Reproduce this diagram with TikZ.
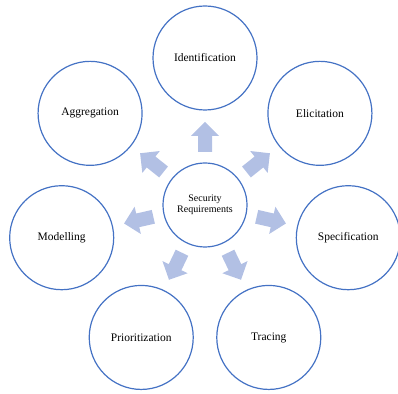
\documentclass[tikz,border=0pt]{standalone}
\usepackage{fontspec}
\setmainfont{Liberation Serif}
\usetikzlibrary{calc}
\definecolor{ringblue}{HTML}{4472C4}
\definecolor{arrowfill}{HTML}{B2C0E4}
\begin{document}
\begin{tikzpicture}[x=1pt,y=1pt,
  outer/.style={circle,draw=ringblue,line width=1.2pt,minimum size=104pt,inner sep=0pt,font=\fontsize{11.5}{13}\selectfont},
  inner/.style={circle,draw=ringblue,line width=1.2pt,minimum size=84pt,inner sep=0pt,align=center,font=\fontsize{10}{10.5}\selectfont},
  blockarrow/.style={fill=arrowfill,draw=none}]
\useasboundingbox (0,0) rectangle (398,393);
\node[inner] (c) at (205,188) {Security\\Requirements};
\foreach \ang/\nm/\txt in {90/ide/Identification, 38.571/eli/Elicitation, -12.857/spe/Specification, -64.286/tra/Tracing, -115.714/pri/Prioritization, -167.143/mod/Modelling, 141.429/agg/Aggregation}{
  \node[outer] (\nm) at ($(c)+(\ang:147)$) {\txt};
  \begin{scope}[shift={(c)},rotate=\ang]
    \fill[blockarrow] (53,-7) -- (69,-7) -- (69,-14) -- (83,0) -- (69,14) -- (69,7) -- (53,7) -- cycle;
  \end{scope}
}
\end{tikzpicture}
\end{document}
